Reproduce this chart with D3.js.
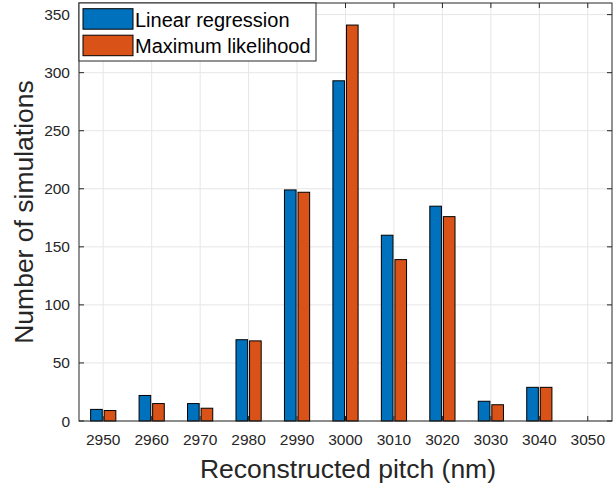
<!DOCTYPE html>
<html><head><meta charset="utf-8">
<script src="https://cdn.jsdelivr.net/npm/d3@7"></script>
<style>body{margin:0;background:#fff;}svg{display:block;font-family:"Liberation Sans",Arial,sans-serif;}</style>
</head><body>
<svg id="chart" width="613" height="488"></svg>
<script>
const categories = [2950, 2960, 2970, 2980, 2990, 3000, 3010, 3020, 3030, 3040, 3050];
const linearRegression = [10, 22, 15, 70, 199, 293, 160, 185, 17, 29, 0];
const maximumLikelihood = [9, 15, 11, 69, 197, 341, 139, 176, 14, 29, 0];
const seriesNames = ["Linear regression", "Maximum likelihood"];
const seriesColors = ["#0072BD", "#D95319"];
const yTicks = [0, 50, 100, 150, 200, 250, 300, 350];

const svg = d3.select("#chart");
const m = {left: 79, right: 612, top: 3, bottom: 421};
const x = d3.scaleLinear().domain([2945, 3055]).range([m.left, m.right]);
const y = d3.scaleLinear().domain([0, 360]).range([m.bottom, m.top]);
const textCol = "#262626";

// grid
const g = svg.append("g");
g.selectAll(".vg").data(categories).enter().append("line")
  .attr("x1", d => x(d)).attr("x2", d => x(d)).attr("y1", m.top).attr("y2", m.bottom)
  .attr("stroke", "#e6e6e6").attr("stroke-width", 1);
g.selectAll(".hg").data(yTicks).enter().append("line")
  .attr("x1", m.left).attr("x2", m.right).attr("y1", d => y(d)).attr("y2", d => y(d))
  .attr("stroke", "#e6e6e6").attr("stroke-width", 1);

// bars
const offset = 1.4, bw = 2.4;
const series = [linearRegression, maximumLikelihood];
series.forEach((vals, si) => {
  const off = si === 0 ? -offset : offset;
  svg.append("g").selectAll("rect").data(categories).enter().append("rect")
    .attr("x", (d) => x(d + off - bw / 2))
    .attr("width", x(bw) - x(0))
    .attr("y", (d, i) => y(vals[i]))
    .attr("height", (d, i) => y(0) - y(vals[i]))
    .attr("fill", seriesColors[si])
    .attr("stroke", "#000").attr("stroke-width", 1);
});

// axes box
const ax = svg.append("g").attr("stroke", textCol).attr("stroke-width", 1).attr("fill", "none");
ax.append("rect").attr("x", m.left).attr("y", m.top).attr("width", m.right - m.left).attr("height", m.bottom - m.top);
const tl = 5;
categories.forEach(c => {
  ax.append("line").attr("x1", x(c)).attr("x2", x(c)).attr("y1", m.bottom).attr("y2", m.bottom - tl);
  ax.append("line").attr("x1", x(c)).attr("x2", x(c)).attr("y1", m.top).attr("y2", m.top + tl);
});
yTicks.forEach(t => {
  ax.append("line").attr("x1", m.left).attr("x2", m.left + tl).attr("y1", y(t)).attr("y2", y(t));
  ax.append("line").attr("x1", m.right).attr("x2", m.right - tl).attr("y1", y(t)).attr("y2", y(t));
});

// tick labels
svg.append("g").selectAll("text").data(categories).enter().append("text")
  .attr("x", d => x(d)).attr("y", 445).attr("text-anchor", "middle")
  .attr("font-size", 15.5).attr("fill", textCol).text(d => d);
svg.append("g").selectAll("text").data(yTicks).enter().append("text")
  .attr("x", m.left - 9).attr("y", d => y(d) + 5.5).attr("text-anchor", "end")
  .attr("font-size", 15.5).attr("fill", textCol).text(d => d);

// axis titles
svg.append("text").attr("x", 348).attr("y", 478).attr("text-anchor", "middle")
  .attr("font-size", 26.5).attr("fill", textCol).text("Reconstructed pitch (nm)");
svg.append("text").attr("transform", `translate(33,${(m.top + m.bottom) / 2}) rotate(-90)`)
  .attr("text-anchor", "middle").attr("font-size", 26.5).attr("fill", textCol).text("Number of simulations");

// legend
const lg = svg.append("g");
lg.append("rect").attr("x", m.left).attr("y", m.top).attr("width", 237).attr("height", 58)
  .attr("fill", "#fff").attr("stroke", textCol).attr("stroke-width", 1);
seriesNames.forEach((n, i) => {
  const yy = 8.7 + i * 26.5;
  lg.append("rect").attr("x", 83).attr("y", yy).attr("width", 50).attr("height", 20.5)
    .attr("fill", seriesColors[i]).attr("stroke", "#000").attr("stroke-width", 1);
  lg.append("text").attr("x", 135).attr("y", yy + 18).attr("font-size", 20)
    .attr("fill", "#000").text(n);
});
</script>
</body></html>
